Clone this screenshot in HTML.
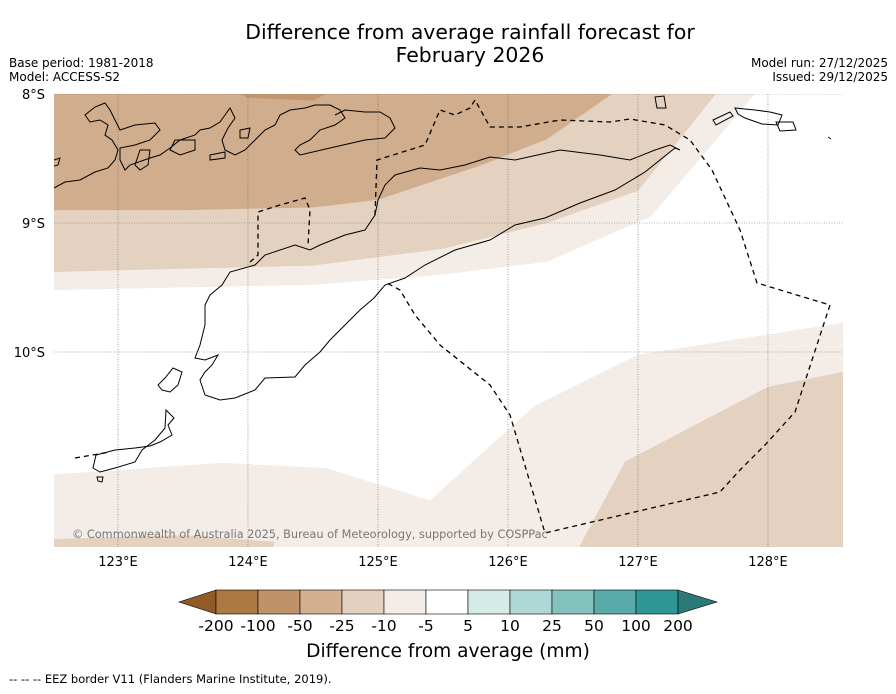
<!DOCTYPE html>
<html><head><meta charset="utf-8"><style>
body{margin:0;background:#fff;width:896px;height:690px;overflow:hidden;font-family:"DejaVu Sans","Liberation Sans",sans-serif}
svg text{font-family:"DejaVu Sans","Liberation Sans",sans-serif}
</style></head><body>
<svg id="chart" width="896" height="690" xmlns="http://www.w3.org/2000/svg">
<text x="470" y="39" font-size="20.4" text-anchor="middle">Difference from average rainfall forecast for</text>
<text x="470" y="62" font-size="20.4" text-anchor="middle">February 2026</text>
<text x="9" y="67" font-size="12">Base period: 1981-2018</text>
<text x="9" y="81" font-size="12">Model: ACCESS-S2</text>
<text x="888" y="67" font-size="12" text-anchor="end">Model run: 27/12/2025</text>
<text x="888" y="81" font-size="12" text-anchor="end">Issued: 29/12/2025</text>
<defs><clipPath id="mapclip"><rect x="54" y="94" width="789" height="453"/></clipPath></defs>
<g id="map" clip-path="url(#mapclip)">
<rect x="54" y="94" width="789" height="453" fill="#fff"/>
<g id="bands"></g>
<g id="grid"></g>
<g id="coast" fill="none" stroke="#000" stroke-width="1">
<path d="M374,298 L385,285 L405,278 L425,265 L455,250 L490,240 L515,225 L545,218 L580,203 L615,190 L645,172 L675,148 L680,150 L670,145 L655,150 L630,160 L600,155 L560,150 L515,160 L490,157 L465,165 L440,170 L420,168 L395,175 L385,185 L378,200 L375,215 L365,230 L345,235 L320,245 L310,250 L295,245 L265,255 L255,265 L230,272 L222,285 L210,295 L205,305 L205,325 L200,345 L195,358 L205,360 L218,355 L212,365 L205,372 L200,380 L205,395 L220,400 L235,398 L255,390 L265,378 L295,377 L305,365 L320,352 L330,340 L345,325 L360,310 Z"/>
<path d="M173,368 L182,372 L178,385 L170,392 L162,390 L158,385 L165,378 Z"/>
<path d="M166,410 L174,418 L168,425 L172,435 L160,442 L150,446 L135,448 L115,450 L96,455 L93,468 L100,472 L115,468 L135,462 L142,450 L155,440 L165,428 Z"/>
<path d="M97,477 L103,477 L102,482 L98,481 Z"/>
<path d="M54,188 L65,182 L80,180 L95,172 L108,168 L115,160 L118,150 L112,140 L105,135 L108,125 L100,120 L90,122 L85,115 L95,107 L105,103 L110,110 L115,120 L120,130 L135,125 L155,123 L160,130 L150,140 L135,145 L120,148 L120,160 L125,170 L130,165 L150,158 L160,155 L170,148 L180,140 L195,135 L200,130 L210,128 L220,122 L225,115 L230,108 L235,118 L228,128 L222,140 L225,150 L235,155 L245,150 L255,140 L265,130 L275,125 L280,115 L290,110 L305,108 L315,105 L330,105 L340,110 L345,118 L335,125 L320,130 L310,140 L300,145 L295,150 L300,155 L330,148 L365,140 L385,138 L395,128 L390,118 L380,112 L365,112 L345,110 L335,115"/>
<path d="M140,150 L150,150 L148,165 L140,170 L135,165 Z M175,140 L195,140 L195,150 L180,155 L170,150 Z M210,155 L225,152 L225,158 L210,160 Z M240,130 L250,128 L248,138 L240,138 Z M54,160 L60,158 L58,165 L54,166"/>
<path d="M655,97 L664,96 L666,108 L657,108 Z M735,108 L755,110 L770,112 L782,115 L778,125 L762,124 L745,118 L738,114 Z M776,122 L793,122 L796,130 L780,131 Z"/>
<path d="M713,120 L730,112 L733,116 L716,125 Z M828,137 L831,139"/>
</g>
<g id="eez" fill="none" stroke="#000" stroke-width="1.3" stroke-dasharray="5,4">
<path d="M250,262 L258,255 L258,212 L280,205 L305,198 L310,210 L308,245"/>
<path d="M375,215 L377,160 L425,145 L440,110 L455,115 L470,108 L475,100 L490,127 L520,127 L560,120 L610,122 L630,119 L665,125 L690,140 L712,170 L740,230 L757,283 L830,305 L795,412 L765,445 L740,470 L720,492 L545,533 L510,415 L490,385 L440,345 L415,315 L400,290 L385,282"/>
<path d="M75,458 L110,452"/>
</g>
<text x="72" y="538" font-size="11.3" fill="#777">© Commonwealth of Australia 2025, Bureau of Meteorology, supported by COSPPac</text>
</g>
<g id="axes"></g>
<g id="colorbar"></g>
<text x="448" y="657" font-size="18.6" text-anchor="middle">Difference from average (mm)</text>
<text x="9" y="683" font-size="11.5">--  --  -- EEZ border V11 (Flanders Marine Institute, 2019).</text>
</svg>
<script>
// Axis ranges and tick data
const lonTicks = [123,124,125,126,127,128];
const lonLabels = ["123°E","124°E","125°E","126°E","127°E","128°E"];
const latTicks = [8,9,10];
const latLabels = ["8°S","9°S","10°S"];
// Contour band boundaries [lon, latS]
const bandLevels = ["-50..-25","-25..-10","-10..-5","se-10..-5","se-25..-10","sw-25..-10","top-100..-50"];
const bandColors = ["#d0ad8c","#e4d1bf","#f4ede7","#f4ede7","#e4d1bf","#e4d1bf","#c29670"];
const band0 = [[122.5,7.9],[122.5,8.9],[123.5,8.9],[124.5,8.88],[125.0,8.82],[125.8,8.55],[126.3,8.35],[126.8,8.0],[126.8,7.9]];
const band1 = [[122.5,7.9],[122.5,9.38],[124.5,9.33],[125.5,9.2],[126.3,9.0],[127.0,8.75],[127.6,8.0],[127.6,7.9]];
const band2 = [[122.5,7.9],[122.5,9.52],[124.5,9.48],[125.5,9.4],[126.3,9.3],[127.1,8.95],[127.9,8.0],[127.9,7.9]];
const band3 = [[128.6,9.77],[127.0,10.02],[126.2,10.42],[125.4,11.15],[124.6,10.9],[123.8,10.86],[122.5,10.95],[122.5,11.6],[128.6,11.6]];
const band4 = [[128.6,10.15],[128.0,10.27],[126.9,10.85],[126.5,11.6],[128.6,11.6]];
const band5 = [[122.5,11.45],[123.5,11.42],[124.2,11.47],[124.2,11.6],[122.5,11.6]];
const band6 = [[123.7,7.9],[124.0,8.03],[124.5,8.05],[124.8,7.9]];
const bands = [band0,band1,band2,band3,band4,band5,band6];
// Colour bar
const cbLevels = ["-200","-100","-50","-25","-10","-5","5","10","25","50","100","200"];
const cbColors = ["#ad7942","#c0926a","#d3b08f","#e4d0be","#f4ede7","#ffffff","#d5ebe8","#aed9d6","#84c2be","#58aba8","#2e9694"];

const X0=54, X1=843, LON0=122.508, LON1=128.577;
const Y0=94, PXLAT=129, LAT0=8;
function xScale(lon){return X0+(lon-LON0)/(LON1-LON0)*(X1-X0);}
function yScale(lat){return Y0+(lat-LAT0)*PXLAT;}
const NS="http://www.w3.org/2000/svg";
function mk(tag,attrs,parent){const e=document.createElementNS(NS,tag);for(const k in attrs)e.setAttribute(k,attrs[k]);parent.appendChild(e);return e;}

const bg=document.getElementById('bands');
const order=[2,1,0,6,3,4,5];
order.forEach(i=>{
  const pts=bands[i].map(p=>xScale(p[0]).toFixed(1)+","+yScale(p[1]).toFixed(1)).join(" ");
  const p=mk('polygon',{points:pts,fill:bandColors[i]},bg);
  
  
});

const grid=document.getElementById('grid');
lonTicks.forEach(l=>{
  const ln=mk('line',{x1:xScale(l),x2:xScale(l),y1:94,y2:547,stroke:'#666','stroke-width':0.6,'stroke-dasharray':'1,1.5'},grid);
  
  
});
latTicks.forEach(l=>{
  const ln=mk('line',{x1:54,x2:843,y1:yScale(l),y2:yScale(l),stroke:'#666','stroke-width':0.6,'stroke-dasharray':'1,1.5'},grid);
  
  
});

const ax=document.getElementById('axes');
lonTicks.forEach((l,i)=>{
  const t=mk('text',{x:xScale(l),y:566,'font-size':13,'text-anchor':'middle'},ax);
  t.textContent=lonLabels[i];
  
  
});
latTicks.forEach((l,i)=>{
  const t=mk('text',{x:45,y:yScale(l)+5,'font-size':13,'text-anchor':'end'},ax);
  t.textContent=latLabels[i];
  
  
});

const cb=document.getElementById('colorbar');
const cx0=216, cw=42, cy=590, ch=24;
const la=mk('polygon',{points:`${cx0},${cy} ${cx0},${cy+ch} 179,${cy+ch/2}`,fill:'#915a26',stroke:'#000','stroke-width':0.6},cb);


cbColors.forEach((c,i)=>{
  const r=mk('rect',{x:cx0+i*cw,y:cy,width:cw,height:ch,fill:c,stroke:'#000','stroke-width':0.6},cb);
  
  
});
const xe=cx0+cbColors.length*cw;
const ra=mk('polygon',{points:`${xe},${cy} ${xe},${cy+ch} 717,${cy+ch/2}`,fill:'#2c7a78',stroke:'#000','stroke-width':0.6},cb);


cbLevels.forEach((l,i)=>{
  const t=mk('text',{x:cx0+i*cw,y:631,'font-size':15.5,'text-anchor':'middle'},cb);
  t.textContent=l;
  
  
});
</script>
</body></html>
